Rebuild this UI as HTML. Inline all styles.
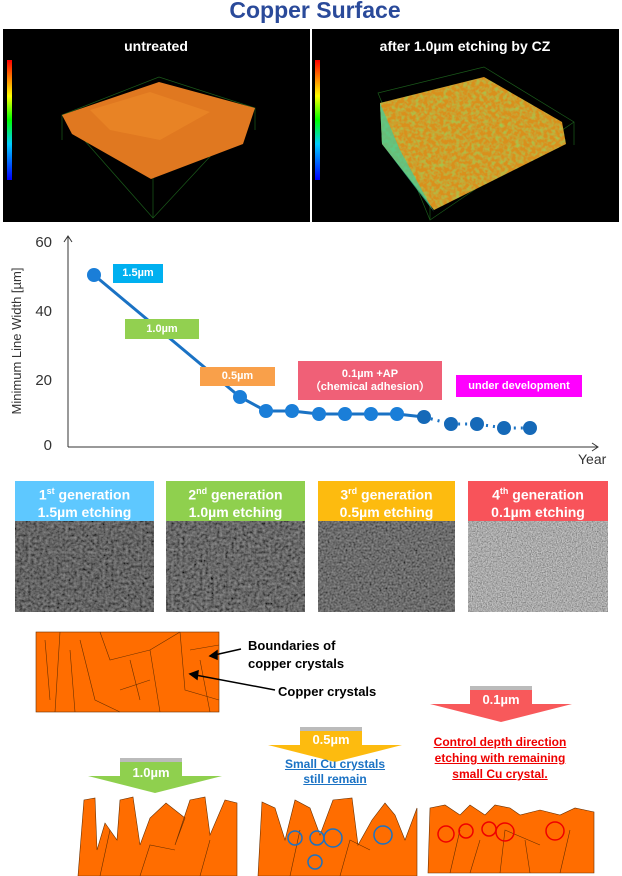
<!DOCTYPE html>
<html><head><meta charset="utf-8"><style>
body{margin:0;width:622px;height:876px;background:#fff;position:relative;overflow:hidden;font-family:"Liberation Sans",Arial,sans-serif}
.a{position:absolute}
.box{position:absolute;color:#fff;font-weight:bold;font-size:11px;text-align:center;display:flex;align-items:center;justify-content:center;line-height:13px}
.hdr{position:absolute;color:#fff;font-weight:bold;font-size:14px;text-align:center;line-height:17px;padding-top:2px;box-sizing:border-box;height:40px}
</style></head><body>
<div class="a" style="left:0;top:-3px;width:630px;text-align:center;color:#2a4a9a;font-weight:bold;font-size:23px">Copper Surface</div>
<svg class="a" style="left:0;top:0" width="622" height="876">
<defs>
<linearGradient id="cb" x1="0" y1="1" x2="0" y2="0"><stop offset="0" stop-color="#00f"/><stop offset=".3" stop-color="#0cf"/><stop offset=".5" stop-color="#0f0"/><stop offset=".7" stop-color="#ff0"/><stop offset="1" stop-color="#f00"/></linearGradient>
<filter id="semA" x="0" y="0" width="100%" height="100%"><feTurbulence type="fractalNoise" baseFrequency="0.35" numOctaves="2" seed="3"/><feColorMatrix type="saturate" values="0"/><feComponentTransfer><feFuncR type="linear" slope="1.5" intercept="-0.33"/><feFuncG type="linear" slope="1.5" intercept="-0.33"/><feFuncB type="linear" slope="1.5" intercept="-0.33"/><feFuncA type="linear" slope="0" intercept="1"/></feComponentTransfer></filter>
<filter id="semB" x="0" y="0" width="100%" height="100%"><feTurbulence type="fractalNoise" baseFrequency="0.5" numOctaves="2" seed="4"/><feColorMatrix type="saturate" values="0"/><feComponentTransfer><feFuncR type="linear" slope="1.4" intercept="-0.27"/><feFuncG type="linear" slope="1.4" intercept="-0.27"/><feFuncB type="linear" slope="1.4" intercept="-0.27"/><feFuncA type="linear" slope="0" intercept="1"/></feComponentTransfer></filter>
<filter id="semC" x="0" y="0" width="100%" height="100%"><feTurbulence type="fractalNoise" baseFrequency="0.8" numOctaves="2" seed="5"/><feColorMatrix type="saturate" values="0"/><feComponentTransfer><feFuncR type="linear" slope="1.5" intercept="-0.12"/><feFuncG type="linear" slope="1.5" intercept="-0.12"/><feFuncB type="linear" slope="1.5" intercept="-0.12"/><feFuncA type="linear" slope="0" intercept="1"/></feComponentTransfer></filter>
<filter id="rough"><feTurbulence type="fractalNoise" baseFrequency="0.25" numOctaves="2" seed="7"/><feColorMatrix type="matrix" values="0 0 0 0 0.2 0 0 0 0 0.7 0 0 0 0 0.1 1.5 0 0 0 -0.6"/><feComposite operator="in" in2="SourceGraphic"/><feComposite operator="over" in2="SourceGraphic"/></filter>
<clipPath id="cl"><rect x="3" y="29" width="307" height="193"/></clipPath>
<clipPath id="cr"><rect x="312" y="29" width="307" height="193"/></clipPath>
</defs>
<rect x="3" y="29" width="307" height="193" fill="#000"/>
<rect x="312" y="29" width="307" height="193" fill="#000"/>
<rect x="7" y="60" width="5" height="120" fill="url(#cb)"/>
<rect x="315" y="60" width="5" height="120" fill="url(#cb)"/>
<g stroke="#1a5a1a" stroke-width="0.7" fill="none" clip-path="url(#cl)">
<path d="M62 115 L159 77 L255 108 L153 218 Z M153 218 L153 150 M62 115 L62 140 M255 108 L255 130"/>
</g>
<g stroke="#1a5a1a" stroke-width="0.7" fill="none" clip-path="url(#cr)">
<path d="M378 93 L484 67 L574 122 L430 220 Z M430 220 L430 190 M574 122 L574 145"/>
</g>
<path d="M62 115 L159 82 L255 108 L243 144 L151 179 L72 134 Z" fill="#e07820"/>
<path d="M90 110 L150 92 L210 112 L160 140 L110 130 Z" fill="#ec8a2a" opacity=".6"/>
<path d="M380 103 L484 77 L562 122 L566 144 L434 210 L382 144 Z" fill="#d9901c" filter="url(#rough)"/>
<path d="M380 103 L382 144 L434 212 L400 150 Z" fill="#3ad0a0" opacity=".7"/>
<text x="156" y="51" fill="#fff" font-size="14" font-weight="bold" text-anchor="middle">untreated</text>
<text x="465" y="51" fill="#fff" font-size="14" font-weight="bold" text-anchor="middle">after 1.0µm etching by CZ</text>
<g stroke="#333" stroke-width="1" fill="none">
<path d="M68 447 V236 M64 242 L68 236 L72 242"/>
<path d="M68 447 H598 M592 443 L598 447 L592 451"/>
</g>
<g font-size="15" fill="#333" text-anchor="end"><text x="52" y="247">60</text><text x="52" y="316">40</text><text x="52" y="385">20</text><text x="52" y="450">0</text></g>
<text x="578" y="464" font-size="14" fill="#333">Year</text>
<text transform="translate(21 341) rotate(-90)" font-size="13" fill="#333" text-anchor="middle">Minimum Line Width [µm]</text>
<polyline points="94,275 240,397 266,411 292,411 319,414 345,414 371,414 397,414 424,417" fill="none" stroke="#1a72c4" stroke-width="3"/>
<polyline points="424,417 451,424 477,424 504,428 530,428" fill="none" stroke="#1a72c4" stroke-width="3" stroke-dasharray="2 5"/>
<g fill="#1a7ed8"><circle cx="94" cy="275" r="7"/><circle cx="240" cy="397" r="7"/><circle cx="266" cy="411" r="7"/><circle cx="292" cy="411" r="7"/><circle cx="319" cy="414" r="7"/><circle cx="345" cy="414" r="7"/><circle cx="371" cy="414" r="7"/><circle cx="397" cy="414" r="7"/></g>
<g fill="#1569b8"><circle cx="424" cy="417" r="7"/><circle cx="451" cy="424" r="7"/><circle cx="477" cy="424" r="7"/><circle cx="504" cy="428" r="7"/><circle cx="530" cy="428" r="7"/></g>
<rect x="15" y="521" width="139" height="91" filter="url(#semA)"/>
<rect x="166" y="521" width="139" height="91" filter="url(#semA)"/>
<rect x="318" y="521" width="137" height="91" filter="url(#semB)"/>
<rect x="468" y="521" width="140" height="91" filter="url(#semC)"/>
<rect x="15" y="521" width="139" height="91" fill="#000" opacity=".42"/>
<rect x="166" y="521" width="139" height="91" fill="#000" opacity=".4"/>
<rect x="318" y="521" width="137" height="91" fill="#000" opacity=".38"/>
<rect x="468" y="521" width="140" height="91" fill="#000" opacity=".18"/>
<g stroke="#6a3000" stroke-width=".6" fill="#ff6d00">
<rect x="36" y="632" width="183" height="80"/>
<path d="M60 632 L55 712 M80 640 L95 700 L120 712 M100 632 L110 660 L150 650 L180 632 M150 650 L160 712 M180 632 L185 690 L219 700 M120 690 L150 680 M190 650 L219 645 M70 650 L75 712 M45 640 L50 700 M130 660 L140 700 M200 660 L210 712" fill="none"/>
<path d="M78 876 L84 800 L95 798 L97 850 L105 823 L117 840 L120 800 L133 797 L140 845 L150 818 L166 803 L185 818 L175 845 L190 800 L205 797 L210 835 L225 800 L237 803 L237 876 Z"/>
<path d="M258 876 L262 802 L275 808 L285 840 L295 800 L310 808 L320 835 L333 800 L352 798 L358 845 L372 820 L385 803 L395 815 L405 840 L417 808 L417 876 Z"/>
<path d="M428 873 L430 808 L445 805 L460 815 L470 805 L485 815 L495 805 L510 808 L520 815 L540 810 L560 815 L575 808 L594 812 L594 873 Z"/>
<path d="M100 876 L110 830 M140 876 L150 845 L175 850 M200 876 L210 840 M290 876 L300 830 M340 876 L350 840 L370 850 M450 873 L460 830 M500 873 L505 830 L540 845 M560 873 L570 830 M470 873 L480 840 M530 873 L525 840" fill="none"/>
</g>
<g stroke="#000" stroke-width="1.5" fill="#000"><path d="M241 649 L210 656"/><path d="M210 656 L217 651 L217 659Z"/><path d="M275 690 L190 674"/><path d="M190 674 L198 671 L197 679Z"/></g>
<path d="M470 690 H532 V704 H572 L501 722 L430 704 H470 Z" fill="#f8595b"/>
<rect x="470" y="686" width="62" height="4" fill="#bbb"/>
<path d="M300 731 H362 V745 H402 L335 762 L268 745 H300 Z" fill="#fdbb0f"/>
<rect x="300" y="727" width="62" height="4" fill="#bbb"/>
<path d="M120 762 H182 V776 H222 L155 793 L88 776 H120 Z" fill="#8fd04e"/>
<rect x="120" y="758" width="62" height="4" fill="#bbb"/>
<g font-weight="bold" font-size="13" fill="#fff" text-anchor="middle"><text x="501" y="704">0.1µm</text><text x="331" y="744">0.5µm</text><text x="151" y="777">1.0µm</text></g>
<g fill="none" stroke="#1a72c4" stroke-width="1.5"><circle cx="295" cy="838" r="7"/><circle cx="317" cy="838" r="7"/><circle cx="333" cy="838" r="9"/><circle cx="383" cy="835" r="9"/><circle cx="315" cy="862" r="7"/></g>
<g fill="none" stroke="#e00" stroke-width="1.5"><circle cx="446" cy="834" r="8"/><circle cx="466" cy="831" r="7"/><circle cx="489" cy="829" r="7"/><circle cx="505" cy="832" r="9"/><circle cx="555" cy="831" r="9"/></g>
</svg>
<div class="box" style="left:113px;top:264px;width:50px;height:19px;background:#00b0f0">1.5µm</div>
<div class="box" style="left:125px;top:319px;width:74px;height:20px;background:#92d050">1.0µm</div>
<div class="box" style="left:200px;top:367px;width:75px;height:19px;background:#f9a04a">0.5µm</div>
<div class="box" style="left:298px;top:361px;width:144px;height:39px;background:#f06077">0.1µm +AP<br>（chemical adhesion）</div>
<div class="box" style="left:456px;top:375px;width:126px;height:22px;background:#ff00ff">under development</div>
<div class="hdr" style="left:15px;top:481px;width:139px;background:#5ec8ff">1<sup style="font-size:9px">st</sup> generation<br>1.5µm etching</div>
<div class="hdr" style="left:166px;top:481px;width:139px;background:#8fd04e">2<sup style="font-size:9px">nd</sup> generation<br>1.0µm etching</div>
<div class="hdr" style="left:318px;top:481px;width:137px;background:#fdbb0f">3<sup style="font-size:9px">rd</sup> generation<br>0.5µm etching</div>
<div class="hdr" style="left:468px;top:481px;width:140px;background:#f8535a">4<sup style="font-size:9px">th</sup> generation<br>0.1µm etching</div>
<div class="a" style="left:248px;top:637px;font-weight:bold;font-size:13px;line-height:18px">Boundaries of<br>copper crystals</div>
<div class="a" style="left:278px;top:684px;font-weight:bold;font-size:13px">Copper crystals</div>
<div class="a" style="left:270px;top:757px;width:130px;text-align:center;color:#1a72c4;font-weight:bold;font-size:12px;line-height:15px;text-decoration:underline">Small Cu crystals<br>still remain</div>
<div class="a" style="left:420px;top:734px;width:160px;text-align:center;color:#e00;font-weight:bold;font-size:12px;line-height:16px;text-decoration:underline">Control depth direction<br>etching with remaining<br>small Cu crystal.</div>
</body></html>
